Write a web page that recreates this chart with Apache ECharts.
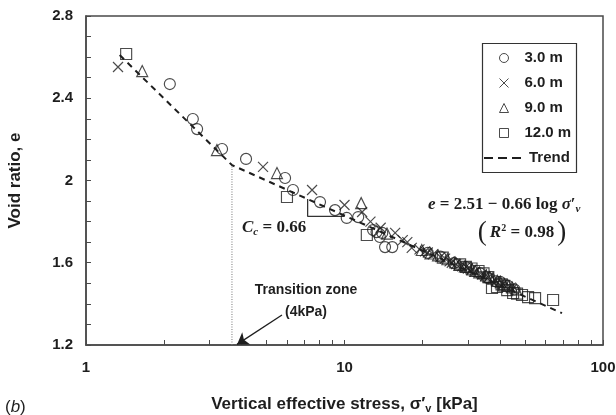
<!DOCTYPE html>
<html>
<head>
<meta charset="utf-8">
<script src="https://cdn.jsdelivr.net/npm/echarts@6/dist/echarts.min.js"></script>
<style>
  html, body { margin: 0; padding: 0; background: #fff; }
  #chart { width: 616px; height: 415px; }
</style>
</head>
<body>
<div id="chart"></div>
<script>
// Void ratio e against vertical effective stress (kPa), one array per sampling depth
const depth3m = [
  [2.11, 2.469], [2.59, 2.299], [2.69, 2.25], [3.36, 2.153], [4.16, 2.105],
  [5.89, 2.012], [6.32, 1.954], [8.04, 1.895], [9.19, 1.856], [10.2, 1.818],
  [11.3, 1.822], [12.9, 1.759], [13.3, 1.749], [14.0, 1.745], [13.7, 1.725],
  [14.35, 1.676], [15.3, 1.676], [21.0, 1.648], [23.5, 1.63], [26.5, 1.598],
  [29.5, 1.578], [33.5, 1.548], [36.0, 1.525], [38.5, 1.51], [40.0, 1.507],
  [43.0, 1.487], [45.5, 1.47]
];
const depth6m = [
  [1.33, 2.552], [4.84, 2.066], [7.49, 1.954], [10.0, 1.881], [11.7, 1.847],
  [12.6, 1.80], [13.8, 1.77], [15.7, 1.745], [16.8, 1.71], [17.5, 1.70],
  [18.2, 1.672], [19.5, 1.665], [20.5, 1.655], [21.0, 1.650], [22.0, 1.641],
  [23.5, 1.628], [24.5, 1.62], [25.5, 1.607], [26.0, 1.60], [27.0, 1.594],
  [28.5, 1.583], [29.5, 1.58], [30.0, 1.572], [31.0, 1.565], [32.0, 1.557],
  [34.0, 1.543], [35.0, 1.535], [36.0, 1.529], [38.5, 1.513], [41.0, 1.497],
  [44.0, 1.479]
];
const depth9m = [
  [1.65, 2.532], [3.21, 2.148], [5.48, 2.036], [11.6, 1.89], [14.6, 1.742],
  [19.9, 1.662], [21.5, 1.645], [23.0, 1.636], [25.0, 1.617], [26.8, 1.601],
  [27.8, 1.59], [29.2, 1.582], [31.2, 1.567], [32.0, 1.56], [33.2, 1.553],
  [35.3, 1.538], [36.5, 1.53], [37.6, 1.522], [39.0, 1.512], [40.2, 1.505],
  [41.5, 1.495], [43.2, 1.487], [44.5, 1.48], [46.2, 1.47]
];
const depth12m = [
  [1.43, 2.615], [5.99, 1.92], [12.2, 1.735], [24.0, 1.625], [28.0, 1.592],
  [29.5, 1.58], [31.0, 1.572], [33.0, 1.56], [34.5, 1.548], [36.0, 1.53],
  [37.2, 1.477], [38.9, 1.482], [40.5, 1.495], [41.5, 1.488], [42.6, 1.467],
  [44.9, 1.453], [46.5, 1.45], [48.6, 1.443], [51.3, 1.433], [54.6, 1.428],
  [64.1, 1.419]
];

// Bilinear trend with its break at the transition stress
const trendLine = [[1.35, 2.61], [3.67, 2.075], [69.4, 1.355]];
const transitionStress = 3.67;
const transitionGuide = [[transitionStress, 1.2], [transitionStress, 2.075]];
// Slope step for the compression index
const slopeStep = [[7.2, 1.91], [7.2, 1.826], [10, 1.826]];
// Arrow pointing at the transition zone
const arrowFrom = [5.73, 1.346];
const arrowTo = [3.84, 1.203];

const xTickValues = [1, 2, 3, 4, 5, 6, 7, 8, 9, 10, 20, 30, 40, 50, 60, 70, 80, 90, 100];
const xLabelValues = [1, 10, 100];

const SANS = "'Liberation Sans', Arial, sans-serif";
const SERIF = "'Liberation Serif', 'Times New Roman', serif";
const INK = '#1e1e1e';
const AXIS = '#4a4a4a';

const hollow = { color: 'rgba(0,0,0,0)', borderColor: INK, borderWidth: 1.15 };
const legendText = { fontFamily: SANS, fontSize: 15, fontWeight: 'bold', color: INK, lineHeight: 16 };

const chart = echarts.init(document.getElementById('chart'), null, { renderer: 'canvas' });

chart.setOption({
  animation: false,
  backgroundColor: '#fff',
  grid: {
    left: 86, right: 13, top: 16, bottom: 70,
    show: true, borderColor: AXIS, borderWidth: 1.5,
    outerBoundsMode: 'none'
  },
  xAxis: {
    type: 'log', logBase: 10, min: 1, max: 100,
    name: 'Vertical effective stress, σ′{s|v} [kPa]',
    nameLocation: 'middle', nameGap: 49,
    nameTextStyle: {
      fontFamily: SANS, fontSize: 17, fontWeight: 'bold', color: INK,
      rich: { s: { fontFamily: SANS, fontSize: 11, fontWeight: 'bold', color: INK, padding: [9, 0, 0, 0] } }
    },
    axisLine: { lineStyle: { color: AXIS, width: 1.5 } },
    axisTick: { show: true, inside: true, length: 5, customValues: xTickValues, lineStyle: { color: AXIS, width: 1 } },
    minorTick: { show: false },
    splitLine: { show: false },
    axisLabel: {
      customValues: xLabelValues, margin: 15,
      fontFamily: SANS, fontSize: 15, fontWeight: 'bold', color: INK,
      formatter: v => String(Math.round(v))
    }
  },
  yAxis: {
    type: 'value', min: 1.2, max: 2.8, interval: 0.4,
    name: 'Void ratio, e',
    nameLocation: 'middle', nameGap: 62, nameRotate: 90,
    nameTextStyle: { fontFamily: SANS, fontSize: 17, fontWeight: 'bold', color: INK },
    axisLine: { show: true, lineStyle: { color: AXIS, width: 1.5 } },
    axisTick: { show: true, inside: true, length: 5, lineStyle: { color: AXIS, width: 1 } },
    minorTick: { show: true, splitNumber: 4, length: 5, lineStyle: { color: AXIS, width: 1 } },
    splitLine: { show: false },
    axisLabel: {
      margin: 13, fontFamily: SANS, fontSize: 15, fontWeight: 'bold', color: INK,
      formatter: v => String(Math.round(v * 10) / 10)
    }
  },
  legend: [
    {
      data: ['3.0 m', '6.0 m', '9.0 m', '12.0 m'],
      orient: 'vertical', left: 497, top: 50, padding: 0,
      itemWidth: 9, itemHeight: 9, itemGap: 9,
      selectedMode: false,
      itemStyle: { borderWidth: 1 },
      textStyle: Object.assign({ padding: [0, 0, 0, 11] }, legendText)
    },
    {
      data: ['Trend'],
      orient: 'vertical', left: 483, top: 150, padding: 0,
      itemWidth: 40, itemHeight: 16, itemGap: 0,
      selectedMode: false,
      itemStyle: { opacity: 0 },
      lineStyle: { type: [9, 5], width: 2, color: INK },
      textStyle: legendText
    }
  ],
  series: [
    {
      name: 'Transition', type: 'line', data: transitionGuide, symbol: 'none', silent: true, clip: false,
      lineStyle: { color: '#777', width: 1, type: [1, 1.5] }, z: 1,
      markLine: {
        silent: true, symbol: ['none', 'arrow'], symbolSize: 11,
        label: { show: false },
        emphasis: { disabled: true },
        lineStyle: { type: 'solid', color: INK, width: 1.3 },
        itemStyle: { color: INK },
        data: [[{ coord: arrowFrom }, { coord: arrowTo }]]
      }
    },
    {
      name: 'Slope', type: 'line', data: slopeStep, symbol: 'none', silent: true,
      lineStyle: { color: '#333', width: 1.3 }, z: 1
    },
    { name: '3.0 m', type: 'scatter', data: depth3m, symbol: 'circle', symbolSize: 11, itemStyle: hollow, z: 3 },
    { name: '6.0 m', type: 'scatter', data: depth6m, symbol: 'path://M0,0L10,10M10,0L0,10', symbolSize: 10,
      itemStyle: { color: 'none', borderColor: INK, borderWidth: 1.2 }, z: 3 },
    { name: '9.0 m', type: 'scatter', data: depth9m, symbol: 'triangle', symbolSize: 11, itemStyle: hollow, z: 3 },
    { name: '12.0 m', type: 'scatter', data: depth12m, symbol: 'rect', symbolSize: 11, itemStyle: hollow, z: 3 },
    {
      name: 'Trend', type: 'line', data: trendLine, symbol: 'none', silent: true,
      lineStyle: { color: INK, width: 2, type: [6, 5] }, z: 4
    }
  ],
  graphic: [
    {
      type: 'rect', z: 100,
      shape: { x: 482.5, y: 43.5, width: 94, height: 129 },
      style: { fill: 'none', stroke: '#333', lineWidth: 1.2 }
    },
    {
      type: 'text', x: 428, y: 205, z: 100,
      style: {
        text: '{i|e} = 2.51 − 0.66 log {i|σ}′{s|v}',
        font: 'bold 17px ' + SERIF, fill: INK, align: 'left', verticalAlign: 'middle',
        rich: {
          i: { fontFamily: SERIF, fontSize: 17, fontWeight: 'bold', fontStyle: 'italic', fill: INK },
          s: { fontFamily: SERIF, fontSize: 11, fontWeight: 'bold', fontStyle: 'italic', fill: INK, padding: [9, 0, 0, 0] }
        }
      }
    },
    {
      type: 'text', x: 522, y: 233, z: 100,
      style: {
        text: '{p|(}{i|R}{u|2} = 0.98{p|)}',
        font: 'bold 17px ' + SERIF, fill: INK, align: 'center', verticalAlign: 'middle',
        rich: {
          p: { fontFamily: SERIF, fontSize: 27, fill: INK, padding: [0, 3, 0, 3] },
          i: { fontFamily: SERIF, fontSize: 17, fontWeight: 'bold', fontStyle: 'italic', fill: INK },
          u: { fontFamily: SERIF, fontSize: 10, fontWeight: 'bold', fill: INK, padding: [0, 0, 9, 0] }
        }
      }
    },
    {
      type: 'text', x: 242, y: 228, z: 100,
      style: {
        text: '{i|C}{s|c} = 0.66',
        font: 'bold 17px ' + SERIF, fill: INK, align: 'left', verticalAlign: 'middle',
        rich: {
          i: { fontFamily: SERIF, fontSize: 17, fontWeight: 'bold', fontStyle: 'italic', fill: INK },
          s: { fontFamily: SERIF, fontSize: 11, fontWeight: 'bold', fontStyle: 'italic', fill: INK, padding: [9, 0, 0, 0] }
        }
      }
    },
    {
      type: 'text', x: 306, y: 290, z: 100,
      style: { text: 'Transition zone', font: 'bold 14px ' + SANS, fill: INK, align: 'center', verticalAlign: 'middle' }
    },
    {
      type: 'text', x: 306, y: 312, z: 100,
      style: { text: '(4kPa)', font: 'bold 14px ' + SANS, fill: INK, align: 'center', verticalAlign: 'middle' }
    },
    {
      type: 'text', x: 5, y: 407, z: 100,
      style: {
        text: '({b|b})', font: '17px ' + SANS, fill: INK, align: 'left', verticalAlign: 'middle',
        rich: { b: { fontFamily: SANS, fontSize: 17, fontStyle: 'italic', fill: INK } }
      }
    }
  ]
});
</script>
</body>
</html>
